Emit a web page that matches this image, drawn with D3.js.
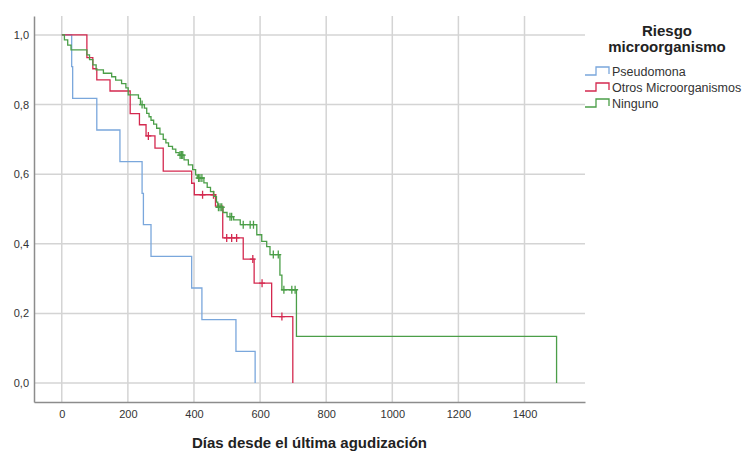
<!DOCTYPE html>
<html>
<head>
<meta charset="utf-8">
<script src="https://cdn.jsdelivr.net/npm/d3@7"></script>
<style>
  body { margin: 0; background: #fff; }
  text { font-family: Arial, "Liberation Sans", sans-serif; }
</style>
</head>
<body>
<svg id="chart"></svg>
<script>
// Kaplan-Meier data (days, survival)
var pseudoTimes = [0, 30, 33, 106, 176, 243, 247, 270, 393, 424, 527, 585];
var pseudoSurv  = [1, 0.909, 0.818, 0.727, 0.636, 0.545, 0.455, 0.364, 0.273, 0.182, 0.091, 0];
var pseudoCens  = [];

var otrosTimes = [0, 76, 94, 106, 146, 207, 235, 255, 282, 307, 393, 401, 465, 487, 549, 582, 635, 699];
var otrosSurv  = [1, 0.935, 0.903, 0.871, 0.839, 0.774, 0.742, 0.710, 0.675, 0.609, 0.574, 0.541, 0.508, 0.417, 0.356, 0.287, 0.191, 0];
var otrosCens  = [262, 426, 459, 499, 514, 529, 578, 606, 666];

var ningunoTimes = [0, 8, 18, 28, 76, 84, 94, 104, 126, 151, 163, 181, 194, 201, 232, 238, 250, 257, 264, 270, 278, 287, 297, 307, 315, 323, 335, 345, 355, 370, 383, 396, 405, 410, 430, 440, 450, 460, 468, 472, 488, 500, 520, 540, 590, 605, 620, 630, 660, 666, 710, 1497];
var ningunoSurv  = [1, 0.986, 0.971, 0.957, 0.943, 0.929, 0.914, 0.900, 0.890, 0.880, 0.870, 0.860, 0.848, 0.828, 0.818, 0.800, 0.790, 0.775, 0.765, 0.755, 0.744, 0.732, 0.715, 0.700, 0.690, 0.680, 0.672, 0.662, 0.655, 0.641, 0.627, 0.613, 0.598, 0.589, 0.575, 0.562, 0.550, 0.536, 0.520, 0.505, 0.490, 0.478, 0.469, 0.455, 0.426, 0.407, 0.392, 0.369, 0.310, 0.268, 0.134, 0];
var ningunoCens  = [243, 358, 362, 366, 414, 418, 424, 474, 479, 484, 509, 514, 549, 570, 580, 640, 655, 672, 696, 706];

var groupNames = ["Pseudomona", "Otros Microorganismos", "Ninguno"];
var groupColors = ["#7aa7dc", "#d4294f", "#4b9e48"];

var xTicks = [0, 200, 400, 600, 800, 1000, 1200, 1400];
var yTicks = [0, 0.2, 0.4, 0.6, 0.8, 1.0];

var series = [
  {times: pseudoTimes, surv: pseudoSurv, cens: pseudoCens},
  {times: otrosTimes, surv: otrosSurv, cens: otrosCens},
  {times: ningunoTimes, surv: ningunoSurv, cens: ningunoCens}
];

// dimensions
var W = 750, H = 453;
var margin = {top: 16, right: 165, bottom: 51, left: 34},
    width = W - margin.left - margin.right,
    height = H - margin.top - margin.bottom;

var xScale = d3.scaleLinear().domain([-84, 1583]).range([0, width]);
var yScale = d3.scaleLinear().domain([-0.0545, 1.0545]).range([height, 0]);

var svg = d3.select("#chart")
    .attr("width", W)
    .attr("height", H);

var g = svg.append("g")
    .attr("transform", "translate(" + margin.left + "," + margin.top + ")");

// grid lines
g.selectAll(".gx").data(xTicks).enter().append("line")
    .attr("x1", function(d) { return xScale(d); })
    .attr("x2", function(d) { return xScale(d); })
    .attr("y1", 0).attr("y2", height)
    .style("stroke", "#d4d4d4").style("stroke-width", 1.5);

g.selectAll(".gy").data(yTicks).enter().append("line")
    .attr("x1", 0).attr("x2", width)
    .attr("y1", function(d) { return yScale(d); })
    .attr("y2", function(d) { return yScale(d); })
    .style("stroke", "#d4d4d4").style("stroke-width", 1.5);

// axes
var xAxis = g.append("g")
    .attr("transform", "translate(0," + height + ")")
    .call(d3.axisBottom(xScale).tickValues(xTicks).tickSize(0).tickPadding(8)
      .tickFormat(d3.format("d")));
var yAxis = g.append("g")
    .call(d3.axisLeft(yScale).tickValues(yTicks).tickSize(0).tickPadding(5)
      .tickFormat(function(d) { return d3.format(".1f")(d).replace(".", ","); }));

[xAxis, yAxis].forEach(function(a) {
  a.select(".domain").style("stroke", "#8c8c8c").style("stroke-width", 1.5);
  a.selectAll("text").style("font-size", "11px").style("fill", "#333")
      .style("font-family", "Arial, 'Liberation Sans', sans-serif");
});

// step function lines
var stepLine = d3.line()
    .x(function(d) { return xScale(d[0]); })
    .y(function(d) { return yScale(d[1]); })
    .curve(d3.curveStepAfter);

function survAt(s, t) {
  var v = s.surv[0];
  for (var i = 0; i < s.times.length; i++) {
    if (s.times[i] <= t) v = s.surv[i];
  }
  return v;
}

series.forEach(function(s, k) {
  var pts = s.times.map(function(t, i) { return [t, s.surv[i]]; });
  g.append("path")
      .attr("d", stepLine(pts))
      .style("fill", "none")
      .style("stroke", groupColors[k])
      .style("stroke-width", 1.3);

  // censor marks
  var cg = g.append("g");
  s.cens.forEach(function(t) {
    var cx = xScale(t), cy = yScale(survAt(s, t));
    cg.append("path")
        .attr("d", "M" + (cx - 3) + "," + cy + "H" + (cx + 3) + "M" + cx + "," + (cy - 4) + "V" + (cy + 4))
        .style("stroke", groupColors[k])
        .style("stroke-width", 1.3)
        .style("fill", "none");
  });
});

// x axis title
svg.append("text")
    .attr("x", margin.left + width / 2)
    .attr("y", 448)
    .attr("text-anchor", "middle")
    .style("font-size", "15px")
    .style("font-weight", "bold")
    .style("fill", "#222")
    .text("Días desde el última agudización");

// legend
var lg = svg.append("g");
lg.append("text")
    .attr("x", 667).attr("y", 36)
    .attr("text-anchor", "middle")
    .style("font-size", "15px").style("font-weight", "bold").style("fill", "#222")
    .text("Riesgo");
lg.append("text")
    .attr("x", 667).attr("y", 52)
    .attr("text-anchor", "middle")
    .style("font-size", "15px").style("font-weight", "bold").style("fill", "#222")
    .text("microorganismo");

groupNames.forEach(function(name, k) {
  var y = 71 + k * 16;
  lg.append("path")
      .attr("d", "M585," + (y + 4) + "H596V" + (y - 4) + "H609V" + (y + 3))
      .style("fill", "none")
      .style("stroke", groupColors[k])
      .style("stroke-width", 1.3);
  lg.append("text")
      .attr("x", 612).attr("y", y + 4.5)
      .style("font-size", "12.5px").style("fill", "#333")
      .text(name);
});
</script>
</body>
</html>
